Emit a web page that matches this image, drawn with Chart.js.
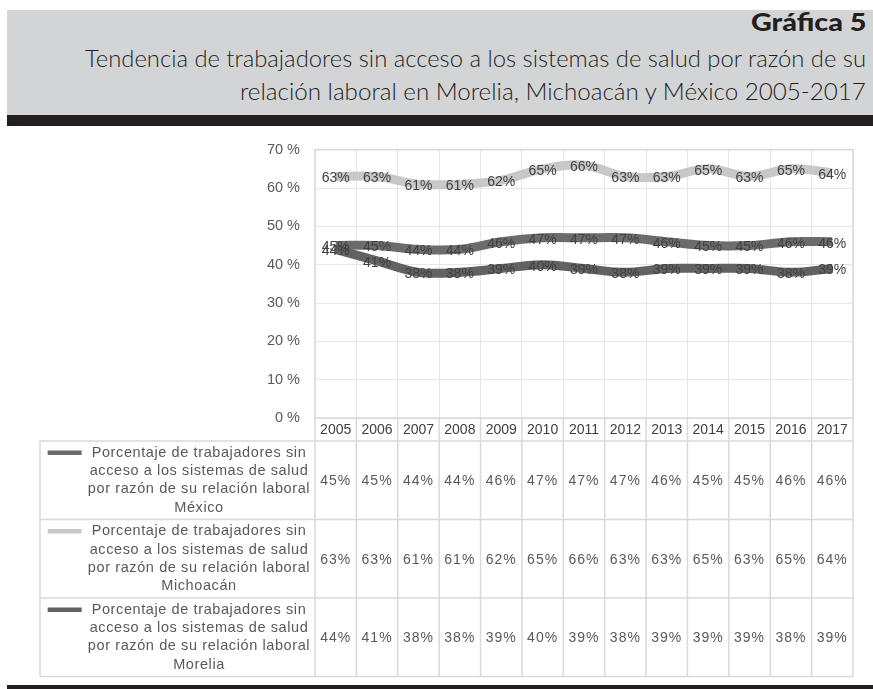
<!DOCTYPE html>
<html lang="es">
<head>
<meta charset="utf-8">
<title>Gráfica 5</title>
<script src="https://cdn.jsdelivr.net/npm/chart.js@4.4.1/dist/chart.umd.min.js"></script>
<style>
html,body{margin:0;padding:0;background:#fff}
body{width:873px;height:689px;position:relative;overflow:hidden;font-family:Lato,sans-serif}
#band{position:absolute;left:7px;top:10px;width:866px;height:105px;background:#d3d4d6}
#bar{position:absolute;left:7px;top:115px;width:866px;height:11px;background:#231f20}
#foot{position:absolute;left:7px;top:685px;width:866px;height:4px;background:#231f20}
.t{position:absolute;right:7px;white-space:nowrap;color:#231f20;line-height:1.2;transform-origin:right center;font-weight:300}
#num{top:8px;font-weight:900;font-size:24px}
#l1{top:45px;font-size:23px}
#l2{top:78px;font-size:23px}
#wrap{position:absolute;left:0;top:126px;width:873px;height:558px}
</style>
</head>
<body>
<div id="band"></div>
<div id="bar"></div>
<div id="foot"></div>
<div class="t" id="num" data-w="115">Gráfica 5</div>
<div class="t" id="l1" data-w="781">Tendencia de trabajadores sin acceso a los sistemas de salud por razón de su</div>
<div class="t" id="l2" data-w="626">relación laboral en Morelia, Michoacán y México 2005-2017</div>
<div id="wrap"><canvas id="c" width="873" height="558"></canvas></div>
<script>
// years on the x axis / table header
const years=['2005','2006','2007','2008','2009','2010','2011','2012','2013','2014','2015','2016','2017'];
// % of workers without health-system access due to their job
const mexico=[45,45,44,44,46,47,47,47,46,45,45,46,46];
const michoacan=[63,63,61,61,62,65,66,63,63,65,63,65,64];
const morelia=[44,41,38,38,39,40,39,38,39,39,39,38,39];
const yMax=70,yStep=10;
const nameLines=[
 ['Porcentaje de trabajadores sin','acceso a los sistemas de salud','por razón de su relación laboral','México'],
 ['Porcentaje de trabajadores sin','acceso a los sistemas de salud','por razón de su relación laboral','Michoacán'],
 ['Porcentaje de trabajadores sin','acceso a los sistemas de salud','por razón de su relación laboral','Morelia']
];
const colors=['#6c6c6e','#c8c8c8','#626264'];

// stretch header lines to their column width
document.querySelectorAll('.t').forEach(function(el){
 var w=+el.dataset.w;el.style.transform='scaleX('+(w/el.offsetWidth)+')';
});

const HEAD=23,ROW=78.5,TBL_LEFT=40,LINE=18.3;
const FONT='14px "Liberation Sans", Arial, sans-serif';

// data labels on the lines
const labelsPlugin={
 id:'valLabels',
 afterDatasetsDraw(chart){
  var ctx=chart.ctx;ctx.save();
  ctx.font=FONT;ctx.fillStyle='#404040';ctx.textAlign='center';ctx.textBaseline='middle';
  chart.data.datasets.forEach(function(ds,di){
   chart.getDatasetMeta(di).data.forEach(function(p,i){
    ctx.fillText(ds.data[i]+'%',p.x,p.y+2);
   });
  });
  ctx.restore();
 }
};

// data table under the axis
const tablePlugin={
 id:'dataTable',
 afterDraw(chart){
  var ctx=chart.ctx,a=chart.chartArea,x=chart.scales.x,n=years.length;
  var top=a.bottom,hb=top+HEAD,bot=hb+ROW*chart.data.datasets.length;
  ctx.save();
  ctx.strokeStyle='#d9d9d9';ctx.lineWidth=1.5;
  ctx.strokeRect(a.left,a.top,a.right-a.left,a.bottom-a.top);
  ctx.beginPath();
  for(var i=0;i<=n;i++){
   var bx=x.getPixelForValue(i-0.5);
   ctx.moveTo(bx,top);ctx.lineTo(bx,bot);
  }
  ctx.moveTo(TBL_LEFT,hb);ctx.lineTo(TBL_LEFT,bot);
  for(var r=0;r<=chart.data.datasets.length;r++){
   ctx.moveTo(TBL_LEFT,hb+r*ROW);ctx.lineTo(a.right,hb+r*ROW);
  }
  ctx.stroke();
  ctx.fillStyle='#595959';ctx.textAlign='center';ctx.textBaseline='middle';
  var cx=199;
  chart.data.datasets.forEach(function(ds,di){
   var cy=hb+ROW*di+ROW/2;
   ctx.font=FONT;ctx.letterSpacing='1px';
   ds.data.forEach(function(v,i){ctx.fillText(v+'%',x.getPixelForTick(i),cy+1)});
   ctx.font='14.5px "Liberation Sans", Arial, sans-serif';ctx.letterSpacing='0.6px';
   var ls=nameLines[di];
   ls.forEach(function(t,k){
    var ly=cy+(k-(ls.length-1)/2)*LINE;
    ctx.fillText(t,cx,ly);
    if(k===0){
     var w=ctx.measureText(t).width,sx=cx-w/2-10;
     ctx.save();ctx.strokeStyle=colors[di];ctx.lineWidth=4.5;
     ctx.beginPath();ctx.moveTo(sx-34,ly);ctx.lineTo(sx,ly);ctx.stroke();ctx.restore();
    }
   });
  });
  ctx.restore();
 }
};

function line(label,data,color,order){
 return{label:label,data:data,borderColor:color,backgroundColor:color,borderWidth:9,
  pointRadius:0,pointHoverRadius:0,tension:0.35,fill:false,order:order};
}

new Chart(document.getElementById('c'),{
 type:'line',
 data:{labels:years,datasets:[
  line('México',mexico,colors[0],2),
  line('Michoacán',michoacan,colors[1],1),
  line('Morelia',morelia,colors[2],0)
 ]},
 options:{
  responsive:false,animation:false,devicePixelRatio:1,
  layout:{padding:{left:0,right:20,top:16,bottom:243}},
  plugins:{legend:{display:false},tooltip:{enabled:false}},
  scales:{
   x:{offset:true,
    grid:{offset:true,color:'#e6e6e6',drawTicks:false},border:{display:false},
    ticks:{color:'#404040',font:{family:'"Liberation Sans", Arial',size:14},padding:4,maxRotation:0,autoSkip:false},
    afterFit:function(s){s.height=HEAD}},
   y:{min:0,max:yMax,
    grid:{color:'#e6e6e6',drawTicks:false},border:{display:false},
    ticks:{stepSize:yStep,color:'#595959',padding:15,font:{family:'"Liberation Sans", Arial',size:14.5},
     callback:function(v){return v+' %'}},
    afterFit:function(s){s.width=315}}
  }
 },
 plugins:[labelsPlugin,tablePlugin]
});
</script>
</body>
</html>
